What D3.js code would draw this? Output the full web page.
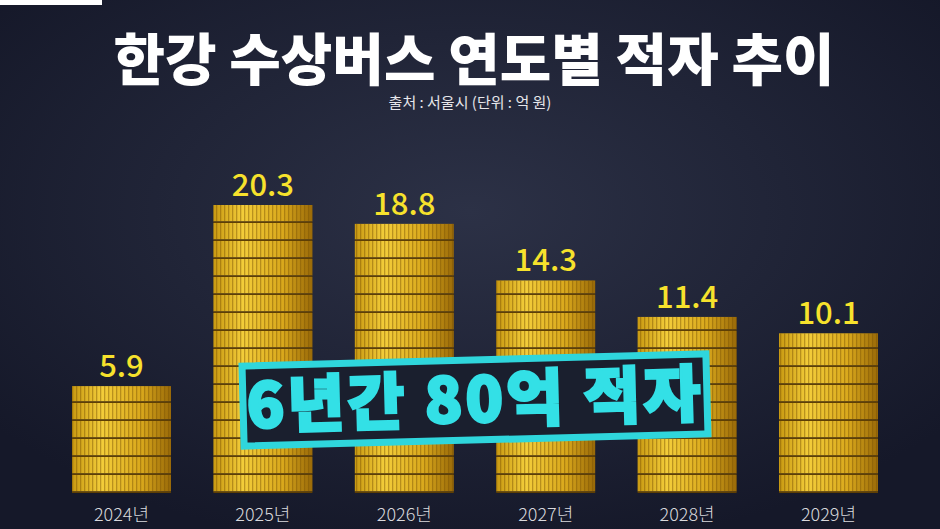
<!DOCTYPE html>
<html><head><meta charset="utf-8">
<script src="https://cdn.jsdelivr.net/npm/d3@7"></script>
<style>
body{margin:0;background:#1b1f33;overflow:hidden}
text{font-family:"Noto Sans CJK KR","Noto Sans",sans-serif}
</style></head>
<body><svg id="c" width="940" height="529"></svg>
<script>
// data (unit: 억 원)
const years = ["2024년", "2025년", "2026년", "2027년", "2028년", "2029년"]
const deficits = [5.9, 20.3, 18.8, 14.3, 11.4, 10.1]
const valueLabels = ["5.9", "20.3", "18.8", "14.3", "11.4", "10.1"]

const svg = d3.select("#c")
const W = 940, H = 529
const base = 493

const defs = svg.append("defs")
let bg = defs.append("radialGradient").attr("id", "bg").attr("cx", "50%").attr("cy", "40%").attr("r", "65%")
bg.append("stop").attr("offset", "0").attr("stop-color", "#2c3146")
bg.append("stop").attr("offset", "1").attr("stop-color", "#151829")
svg.append("rect").attr("width", W).attr("height", H).attr("fill", "url(#bg)")
svg.append("rect").attr("width", 102).attr("height", 5).attr("fill", "#fff")

// coin colours: horizontal shading + vertical ridges
let gold = defs.append("linearGradient").attr("id", "gold")
gold.append("stop").attr("offset", "0").attr("stop-color", "#c99a12")
gold.append("stop").attr("offset", "0.3").attr("stop-color", "#f3cd3a")
gold.append("stop").attr("offset", "0.7").attr("stop-color", "#d9a81c")
gold.append("stop").attr("offset", "1").attr("stop-color", "#9a6a08")
let ridge = defs.append("pattern").attr("id", "ridge").attr("width", 4).attr("height", 4)
    .attr("patternUnits", "userSpaceOnUse")
ridge.append("rect").attr("width", 1.3).attr("height", 4).attr("fill", "#7a5205").attr("opacity", 0.45)

const x = d3.scaleBand().domain(years).range([72, 878]).paddingInner(0.3).paddingOuter(0)
const h = d3.scaleLinear().domain([-2.6, 20.3]).range([0, 288])
const coinH = 18

const bars = svg.selectAll("g.bar").data(years.map((y, i) => ({y, v: deficits[i], label: valueLabels[i]})))
    .join("g").attr("class", "bar")
bars.each(function (d) {
    let g = d3.select(this)
    let top = base - h(d.v)
    let n = Math.ceil(h(d.v) / coinH)
    for (let k = 0; k < n; k++) {
        let y0 = Math.max(top, base - (k + 1) * coinH)
        let hh = base - k * coinH - y0
        g.append("rect").attr("x", x(d.y)).attr("y", y0).attr("width", x.bandwidth()).attr("height", hh - 1.5)
            .attr("fill", "url(#gold)")
        g.append("rect").attr("x", x(d.y)).attr("y", y0).attr("width", x.bandwidth()).attr("height", hh - 1.5)
            .attr("fill", "url(#ridge)")
        g.append("rect").attr("x", x(d.y)).attr("y", y0 + hh - 1.5).attr("width", x.bandwidth()).attr("height", 1.5)
            .attr("fill", "#5e3f04")
    }
    g.append("text").attr("x", x(d.y) + x.bandwidth() / 2).attr("y", top - 9)
        .attr("text-anchor", "middle").attr("font-size", 31).attr("font-weight", 500)
        .attr("fill", "#f7e22c").text(d.label)
    g.append("text").attr("x", x(d.y) + x.bandwidth() / 2).attr("y", 521)
        .attr("text-anchor", "middle").attr("font-size", 18).attr("font-weight", 300)
        .attr("fill", "#d8d8dc").text(d.y)
})

// title
svg.append("text").attr("x", 474).attr("y", 80).attr("text-anchor", "middle")
    .attr("font-size", 56).attr("font-weight", 900).attr("fill", "#fff").text("한강 수상버스 연도별 적자 추이")
svg.append("text").attr("x", 470).attr("y", 108).attr("text-anchor", "middle")
    .attr("font-size", 15).attr("fill", "#e6e6ea").text("출처 : 서울시 (단위 : 억 원)")

// banner
let b = svg.append("g").attr("transform", "translate(475,400) rotate(-1.5)")
b.append("rect").attr("x", -232).attr("y", -40).attr("width", 464).attr("height", 80)
    .attr("fill", "#1a1f2e").attr("stroke", "#2fd6dc").attr("stroke-width", 7)
b.append("text").attr("y", 22).attr("text-anchor", "middle")
    .attr("font-size", 62).attr("font-weight", 900).attr("fill", "#33e0e6")
    .attr("stroke", "#33e0e6").attr("stroke-width", 2.5).attr("letter-spacing", 3)
    .text("6년간 80억 적자")
</script></body></html>
